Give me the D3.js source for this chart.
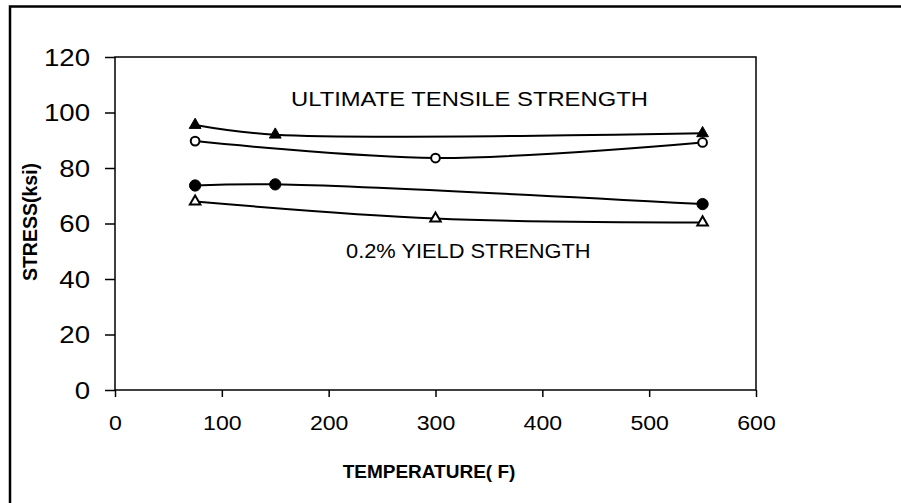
<!DOCTYPE html>
<html>
<head>
<meta charset="utf-8">
<script src="https://cdn.jsdelivr.net/npm/d3@7"></script>
<style>
  body { margin: 0; background: #fff; }
  text { font-family: "Liberation Sans", Arial, sans-serif; fill: #000; }
</style>
</head>
<body>
<div id="chart"></div>
<script>
// ---------------------------------------------------------------------------
// data
// ---------------------------------------------------------------------------
var xTicks = [0, 100, 200, 300, 400, 500, 600];
var yTicks = [0, 20, 40, 60, 80, 100, 120];

// ultimate tensile strength, filled triangles
var utsTriTemp = [75, 150, 550];
var utsTriVal = [95.5, 92, 92.5];
// ultimate tensile strength, open circles
var utsCircTemp = [75, 300, 550];
var utsCircVal = [89.7, 83.6, 89.2];
// 0.2% yield strength, filled circles
var ysCircTemp = [75, 150, 550];
var ysCircVal = [73.7, 74.1, 67.0];
// 0.2% yield strength, open triangles
var ysTriTemp = [75, 300, 550];
var ysTriVal = [67.9, 61.8, 60.4];

var W = 901, H = 503;
var margin = { top: 57, right: 145, bottom: 113, left: 115 };
var width = W - margin.left - margin.right,
  height = H - margin.top - margin.bottom;

var svg = d3.select("#chart").append("svg")
  .attr("width", W).attr("height", H);

// outer frame (runs off the right and bottom of the picture)
svg.append("rect")
  .attr("x", 10).attr("y", 6.5)
  .attr("width", W).attr("height", H)
  .attr("fill", "none").attr("stroke", "#000").attr("stroke-width", 2.5);

var g = svg.append("g")
  .attr("transform", "translate(" + margin.left + "," + margin.top + ")");

var x = d3.scaleLinear().domain([0, 600]).range([0, width]);
var y = d3.scaleLinear().domain([0, 120]).range([height, 0]);

// ---------------------------------------------------------------------------
// axes
// ---------------------------------------------------------------------------
var xAxis = g.append("g")
  .attr("transform", "translate(0," + height + ")")
  .call(d3.axisBottom(x).tickValues(xTicks).tickSize(7).tickSizeOuter(0));
xAxis.selectAll("text")
  .attr("y", 0).attr("dy", 0)
  .attr("transform", "translate(0,40) scale(1.1,1)")
  .style("font-size", "21px");

var yAxis = g.append("g")
  .call(d3.axisLeft(y).tickValues(yTicks).tickSize(10).tickSizeOuter(0));
yAxis.selectAll("text")
  .attr("x", 0).attr("dy", "0.35em")
  .attr("transform", "translate(-25,0) scale(1.15,1)")
  .style("font-size", "24px");

svg.selectAll(".domain").remove();
svg.selectAll(".tick line").attr("stroke", "#000").attr("stroke-width", 1.5);

// plot frame
g.append("rect")
  .attr("width", width).attr("height", height)
  .attr("fill", "none").attr("stroke", "#000").attr("stroke-width", 1.5);

// axis titles
svg.append("text")
  .attr("transform", "translate(37,222) rotate(-90)")
  .attr("text-anchor", "middle")
  .style("font-size", "19.5px").style("font-weight", "bold")
  .text("STRESS(ksi)");

svg.append("text")
  .attr("x", 429).attr("y", 478)
  .attr("text-anchor", "middle")
  .style("font-size", "19px").style("font-weight", "bold")
  .text("TEMPERATURE( F)");

// annotations
g.append("text")
  .attr("transform", "translate(" + (291 - margin.left) + "," + (106 - margin.top) + ") scale(1.22,1)")
  .style("font-size", "19.5px")
  .text("ULTIMATE TENSILE STRENGTH");

g.append("text")
  .attr("transform", "translate(" + (346 - margin.left) + "," + (258 - margin.top) + ") scale(1.12,1)")
  .style("font-size", "19.5px")
  .text("0.2% YIELD STRENGTH");

// ---------------------------------------------------------------------------
// series
// ---------------------------------------------------------------------------
function makeSeries(temps, vals, shape, filled) {
  var data = temps.map(function (t, i) { return { t: t, v: vals[i] }; });

  g.append("path")
    .datum(data)
    .attr("fill", "none")
    .attr("stroke", "#000")
    .attr("stroke-width", 2)
    .attr("d", d3.line()
      .curve(d3.curveCatmullRom.alpha(0.5))
      .x(function (d) { return x(d.t); })
      .y(function (d) { return y(d.v); }));

  var sym = shape == "triangle"
    ? d3.symbol().type(d3.symbolTriangle).size(filled ? 60 : 48)
    : d3.symbol().type(d3.symbolCircle).size(filled ? 100 : 60);

  g.selectAll(null)
    .data(data)
    .enter()
    .append("path")
    .attr("transform", function (d) {
      return "translate(" + x(d.t) + "," + y(d.v) + ")";
    })
    .attr("d", sym)
    .attr("fill", filled ? "#000" : "#fff")
    .attr("stroke", "#000")
    .attr("stroke-width", filled ? 1 : 2);
}

makeSeries(utsTriTemp, utsTriVal, "triangle", true);
makeSeries(utsCircTemp, utsCircVal, "circle", false);
makeSeries(ysCircTemp, ysCircVal, "circle", true);
makeSeries(ysTriTemp, ysTriVal, "triangle", false);
</script>
</body>
</html>
